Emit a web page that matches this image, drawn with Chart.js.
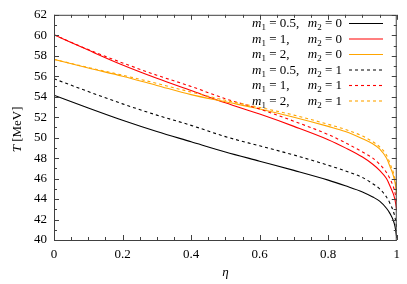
<!DOCTYPE html>
<html lang="en">
<head>
    <meta charset="UTF-8">
    <title>T vs eta</title>
    <style>
        body { margin: 0; background: #fff; }
        #wrap { width: 407px; height: 284px; }
    </style>
</head>
<body>
<div id="wrap"><canvas id="chart" width="407" height="284"></canvas></div>

<script src="https://cdn.jsdelivr.net/npm/chart.js"></script>
<script>
    // eta grid (denser near 1 where the curves drop)
    const eta = [0, 0.1, 0.2, 0.3, 0.4, 0.5, 0.6, 0.7, 0.8, 0.85, 0.9, 0.93, 0.95, 0.97, 0.98, 0.99, 0.995, 1];

    // T [MeV] for each (m1, m2)
    const T_05_0 = [54.15, 52.9, 51.7, 50.6, 49.6, 48.6, 47.7, 46.8, 45.85, 45.3, 44.7, 44.2, 43.8, 43.1, 42.6, 41.9, 41.3, 40.2];
    const T_1_0  = [60.05, 58.55, 57.1, 55.8, 54.6, 53.4, 52.3, 51.1, 49.8, 49.0, 48.1, 47.4, 46.8, 46.0, 45.3, 44.5, 43.9, 42.9];
    const T_2_0  = [57.65, 56.8, 56.0, 55.1, 54.2, 53.5, 52.8, 52.0, 51.1, 50.6, 49.9, 49.4, 48.9, 48.0, 47.2, 46.3, 45.6, 44.5];
    const T_05_1 = [55.75, 54.5, 53.3, 52.2, 51.2, 50.1, 49.2, 48.3, 47.3, 46.75, 46.1, 45.5, 45.0, 44.2, 43.6, 42.8, 42.2, 41.2];
    const T_1_1  = [60.05, 58.6, 57.3, 56.1, 55.0, 53.8, 52.8, 51.6, 50.3, 49.5, 48.6, 48.0, 47.4, 46.6, 46.0, 45.2, 44.6, 43.6];
    const T_2_1  = [57.65, 56.85, 56.1, 55.3, 54.45, 53.65, 52.95, 52.2, 51.3, 50.8, 50.15, 49.6, 49.1, 48.3, 47.5, 46.6, 45.9, 44.8];

    const m1Labels = ['0.5', '1', '2', '0.5', '1', '2'];
    const m2Labels = ['0', '0', '0', '1', '1', '1'];

    const xTicks = [0, 0.2, 0.4, 0.6, 0.8, 1];
    const xTickLabels = ['0', '0.2', '0.4', '0.6', '0.8', '1'];
    const yTicks = [40, 42, 44, 46, 48, 50, 52, 54, 56, 58, 60, 62];
    const xMinorStep = 0.05;
    const yMinorStep = 1;

    const serif = '"Liberation Serif", "DejaVu Serif", serif';
    const series = [T_05_0, T_1_0, T_2_0, T_05_1, T_1_1, T_2_1];
    const colors = ['#000000', '#ff0000', '#ffa500', '#000000', '#ff0000', '#ffa500'];

    const datasets = series.map((vals, i) => ({
        label: 'm1=' + m1Labels[i] + ', m2=' + m2Labels[i],
        data: vals.map((v, j) => ({ x: eta[j], y: v })),
        borderColor: colors[i],
        borderWidth: 1.1,
        borderDash: i < 3 ? [] : [3, 3],
        pointRadius: 0,
        fill: false,
        cubicInterpolationMode: 'monotone',
        order: 5 - i
    }));

    // inward tick marks, frame, axis titles and legend
    const decorations = {
        id: 'decorations',
        afterDraw(chart) {
            const ctx = chart.ctx;
            const a = chart.chartArea;
            const xs = chart.scales.x, ys = chart.scales.y;
            ctx.save();
            ctx.strokeStyle = '#404040';
            ctx.lineWidth = 1;
            ctx.strokeRect(a.left + 0.5, a.top + 0.5, a.right - a.left - 1, a.bottom - a.top);

            ctx.beginPath();
            for (let v = xs.min; v <= xs.max + 1e-9; v += xMinorStep) {
                const major = xTicks.some(t => Math.abs(t - v) < 1e-6);
                const len = major ? 5 : 3;
                const px = Math.round(xs.getPixelForValue(v)) + 0.5;
                ctx.moveTo(px, a.bottom); ctx.lineTo(px, a.bottom - len);
                ctx.moveTo(px, a.top); ctx.lineTo(px, a.top + len);
            }
            for (let v = ys.min; v <= ys.max + 1e-9; v += yMinorStep) {
                const major = yTicks.includes(v);
                const len = major ? 5 : 3;
                const py = Math.round(ys.getPixelForValue(v)) + 0.5;
                ctx.moveTo(a.left, py); ctx.lineTo(a.left + len, py);
                ctx.moveTo(a.right, py); ctx.lineTo(a.right - len, py);
            }
            ctx.stroke();

            // axis titles
            ctx.fillStyle = '#000';
            ctx.textBaseline = 'middle';
            ctx.textAlign = 'center';
            ctx.font = 'italic 13px ' + serif;
            ctx.fillText('\u03B7', (a.left + a.right) / 2, 273);

            ctx.save();
            ctx.translate(18, (a.top + a.bottom) / 2 + 2);
            ctx.rotate(-Math.PI / 2);
            ctx.font = 'italic 13px ' + serif;
            const tW = ctx.measureText('T ').width;
            ctx.font = '13px ' + serif;
            const rest = '[MeV]';
            const rW = ctx.measureText(rest).width;
            ctx.textAlign = 'left';
            ctx.font = 'italic 13px ' + serif;
            ctx.fillText('T', -(tW + rW) / 2, 0);
            ctx.font = '13px ' + serif;
            ctx.fillText(rest, -(tW + rW) / 2 + tW, 0);
            ctx.restore();

            // legend
            const leftX = 252, rightX = 342, lineX0 = 349, lineX1 = 383;
            ctx.textBaseline = 'alphabetic';
            ctx.textAlign = 'left';
            chart.data.datasets.forEach((ds, i) => {
                const y = 23 + 15.5 * i;
                const base = y + 4;
                // m1 part
                let x = leftX;
                ctx.font = 'italic 13px ' + serif;
                ctx.fillText('m', x, base); x += ctx.measureText('m').width;
                ctx.font = '9px ' + serif;
                ctx.fillText('1', x, base + 3); x += ctx.measureText('1').width;
                ctx.font = '13px ' + serif;
                ctx.fillText(' = ' + m1Labels[i] + ',', x, base);
                // m2 part, right aligned
                ctx.font = 'italic 13px ' + serif;
                const wm = ctx.measureText('m').width;
                ctx.font = '9px ' + serif;
                const ws = ctx.measureText('2').width;
                ctx.font = '13px ' + serif;
                const tail = ' = ' + m2Labels[i];
                const wt = ctx.measureText(tail).width;
                x = rightX - (wm + ws + wt);
                ctx.font = 'italic 13px ' + serif;
                ctx.fillText('m', x, base); x += wm;
                ctx.font = '9px ' + serif;
                ctx.fillText('2', x, base + 3); x += ws;
                ctx.font = '13px ' + serif;
                ctx.fillText(tail, x, base);
                // sample line
                ctx.save();
                ctx.strokeStyle = ds.borderColor;
                ctx.lineWidth = ds.borderWidth;
                ctx.setLineDash(ds.borderDash);
                ctx.beginPath();
                ctx.moveTo(lineX0, y + 0.5); ctx.lineTo(lineX1, y + 0.5);
                ctx.stroke();
                ctx.restore();
            });
            ctx.restore();
        }
    };

    new Chart(document.getElementById('chart'), {
        type: 'line',
        data: { datasets: datasets },
        options: {
            responsive: false,
            animation: false,
            layout: { padding: { left: 0, right: 8, top: 12, bottom: 0 } },
            plugins: { legend: { display: false }, tooltip: { enabled: false } },
            scales: {
                x: {
                    type: 'linear',
                    min: 0, max: 1,
                    afterBuildTicks: s => { s.ticks = xTicks.map(v => ({ value: v })); },
                    afterFit: s => { s.height = 44; },
                    grid: { display: false, drawTicks: false },
                    border: { display: false },
                    ticks: {
                        padding: 7,
                        color: '#000',
                        font: { family: serif, size: 13 },
                        maxRotation: 0,
                        callback: (v, i) => xTickLabels[i]
                    }
                },
                y: {
                    type: 'linear',
                    min: 40, max: 62,
                    afterBuildTicks: s => { s.ticks = yTicks.map(v => ({ value: v })); },
                    afterFit: s => { s.width = 54; },
                    grid: { display: false, drawTicks: false },
                    border: { display: false },
                    ticks: {
                        padding: 7,
                        color: '#000',
                        font: { family: serif, size: 13 },
                        callback: v => String(v)
                    }
                }
            }
        },
        plugins: [decorations]
    });
</script>
</body>
</html>
